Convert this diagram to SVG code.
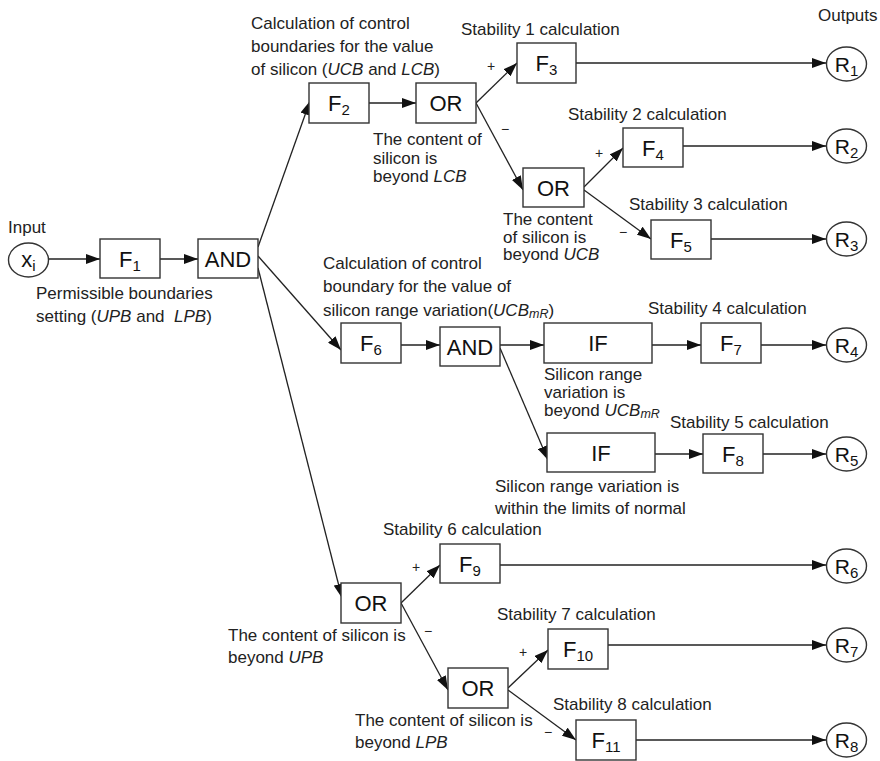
<svg xmlns="http://www.w3.org/2000/svg" width="880" height="761" viewBox="0 0 880 761">
<defs>
<marker id="ah" markerWidth="14" markerHeight="10" refX="14" refY="5" orient="auto" markerUnits="userSpaceOnUse"><path d="M0,0 L14,5 L0,10 Z" fill="#111"/></marker>
</defs>
<style>
.box{fill:#fff;stroke:#333;stroke-width:1.4}
.circ{fill:#fff;stroke:#333;stroke-width:1.4}
.lbl{font-family:"Liberation Sans",Arial,sans-serif;font-size:22px;fill:#111;text-anchor:middle}
.rl{font-family:"Liberation Sans",Arial,sans-serif;font-size:21px;fill:#111;text-anchor:middle}
.sub{font-size:15px}
.t{font-family:"Liberation Sans",Arial,sans-serif;font-size:17px;fill:#222}
.sg{font-family:"Liberation Sans",Arial,sans-serif;font-size:14px;fill:#222;text-anchor:middle}
.it{font-style:italic}
.c line{stroke:#222;stroke-width:1.3;marker-end:url(#ah)}
</style>
<rect width="880" height="761" fill="#fff"/>
<g id="connectors" class="c">
<line x1="49" y1="259" x2="100" y2="259"/>
<line x1="160" y1="259" x2="198" y2="259"/>
<line x1="258" y1="247" x2="310" y2="101"/>
<line x1="369" y1="103" x2="416" y2="103"/>
<line x1="476" y1="103" x2="517" y2="63"/>
<line x1="476" y1="103" x2="523" y2="190"/>
<line x1="584" y1="187" x2="623" y2="148"/>
<line x1="584" y1="190" x2="651" y2="239"/>
<line x1="576" y1="63" x2="826" y2="63"/>
<line x1="683" y1="146" x2="826" y2="146"/>
<line x1="711" y1="239" x2="826" y2="239"/>
<line x1="258" y1="256" x2="341" y2="350"/>
<line x1="401" y1="345" x2="440" y2="345"/>
<line x1="500" y1="345" x2="544" y2="345"/>
<line x1="652" y1="345" x2="701" y2="345"/>
<line x1="761" y1="345" x2="826" y2="345"/>
<line x1="500" y1="348" x2="548" y2="460"/>
<line x1="655" y1="454" x2="703" y2="454"/>
<line x1="763" y1="454" x2="826" y2="454"/>
<line x1="258" y1="268" x2="342" y2="598"/>
<line x1="401" y1="603" x2="440" y2="565"/>
<line x1="401" y1="603" x2="448" y2="690"/>
<line x1="500" y1="565" x2="826" y2="565"/>
<line x1="508" y1="688" x2="548" y2="650"/>
<line x1="508" y1="690" x2="576" y2="740"/>
<line x1="608" y1="645" x2="826" y2="645"/>
<line x1="636" y1="740" x2="826" y2="740"/>
</g>
<g id="n-xi"><ellipse class="circ" cx="28.5" cy="260" rx="20" ry="17"/><text class="lbl" x="28.5" y="267" font-size="24">x<tspan class="sub" dy="4">i</tspan></text></g>
<g id="n-F1"><rect class="box" x="100" y="239" width="60" height="39"/><text class="lbl" x="130" y="266.5">F<tspan class="sub" dy="4">1</tspan></text></g>
<g id="n-AND1"><rect class="box" x="198" y="239" width="60" height="39"/><text class="lbl" x="228" y="266.5">AND</text></g>
<g id="n-F2"><rect class="box" x="309" y="83" width="60" height="40"/><text class="lbl" x="339" y="111">F<tspan class="sub" dy="4">2</tspan></text></g>
<g id="n-OR1"><rect class="box" x="416" y="83" width="60" height="40"/><text class="lbl" x="446" y="111">OR</text></g>
<g id="n-F3"><rect class="box" x="517" y="43" width="59" height="40"/><text class="lbl" x="546.5" y="71">F<tspan class="sub" dy="4">3</tspan></text></g>
<g id="n-OR2"><rect class="box" x="523" y="168" width="61" height="39"/><text class="lbl" x="553.5" y="195.5">OR</text></g>
<g id="n-F4"><rect class="box" x="623" y="128" width="60" height="39"/><text class="lbl" x="653" y="155.5">F<tspan class="sub" dy="4">4</tspan></text></g>
<g id="n-F5"><rect class="box" x="651" y="220" width="60" height="39"/><text class="lbl" x="681" y="247.5">F<tspan class="sub" dy="4">5</tspan></text></g>
<g id="n-F6"><rect class="box" x="341" y="323" width="60" height="40"/><text class="lbl" x="371" y="351">F<tspan class="sub" dy="4">6</tspan></text></g>
<g id="n-AND2"><rect class="box" x="440" y="327" width="60" height="39"/><text class="lbl" x="470" y="354.5">AND</text></g>
<g id="n-IF1"><rect class="box" x="544" y="323" width="108" height="40"/><text class="lbl" x="598" y="351">IF</text></g>
<g id="n-F7"><rect class="box" x="701" y="323" width="60" height="40"/><text class="lbl" x="731" y="351">F<tspan class="sub" dy="4">7</tspan></text></g>
<g id="n-IF2"><rect class="box" x="547" y="433" width="108" height="39"/><text class="lbl" x="601" y="460.5">IF</text></g>
<g id="n-F8"><rect class="box" x="703" y="434" width="60" height="39"/><text class="lbl" x="733" y="461.5">F<tspan class="sub" dy="4">8</tspan></text></g>
<g id="n-F9"><rect class="box" x="440" y="544" width="60" height="39"/><text class="lbl" x="470" y="571.5">F<tspan class="sub" dy="4">9</tspan></text></g>
<g id="n-OR3"><rect class="box" x="341" y="583" width="60" height="40"/><text class="lbl" x="371" y="611">OR</text></g>
<g id="n-OR4"><rect class="box" x="448" y="668" width="60" height="40"/><text class="lbl" x="478" y="696">OR</text></g>
<g id="n-F10"><rect class="box" x="548" y="629" width="60" height="40"/><text class="lbl" x="578" y="657">F<tspan class="sub" dy="4">10</tspan></text></g>
<g id="n-F11"><rect class="box" x="576" y="720" width="60" height="40"/><text class="lbl" x="606" y="748">F<tspan class="sub" dy="4">11</tspan></text></g>
<g id="n-R1"><ellipse class="circ" cx="846.5" cy="64" rx="20" ry="17"/><text class="rl" x="846.5" y="71.5">R<tspan class="sub" dy="4">1</tspan></text></g>
<g id="n-R2"><ellipse class="circ" cx="846.5" cy="146" rx="20" ry="17"/><text class="rl" x="846.5" y="153.5">R<tspan class="sub" dy="4">2</tspan></text></g>
<g id="n-R3"><ellipse class="circ" cx="846.5" cy="239" rx="20" ry="17"/><text class="rl" x="846.5" y="246.5">R<tspan class="sub" dy="4">3</tspan></text></g>
<g id="n-R4"><ellipse class="circ" cx="846.5" cy="345" rx="20" ry="17"/><text class="rl" x="846.5" y="352.5">R<tspan class="sub" dy="4">4</tspan></text></g>
<g id="n-R5"><ellipse class="circ" cx="846.5" cy="454" rx="20" ry="17"/><text class="rl" x="846.5" y="461.5">R<tspan class="sub" dy="4">5</tspan></text></g>
<g id="n-R6"><ellipse class="circ" cx="846.5" cy="566" rx="20" ry="17"/><text class="rl" x="846.5" y="573.5">R<tspan class="sub" dy="4">6</tspan></text></g>
<g id="n-R7"><ellipse class="circ" cx="846.5" cy="645" rx="20" ry="17"/><text class="rl" x="846.5" y="652.5">R<tspan class="sub" dy="4">7</tspan></text></g>
<g id="n-R8"><ellipse class="circ" cx="846.5" cy="740" rx="20" ry="17"/><text class="rl" x="846.5" y="747.5">R<tspan class="sub" dy="4">8</tspan></text></g>
<g id="labels">
<text class="t" x="8" y="233">Input</text>
<text class="t" x="818" y="21">Outputs</text>
<text class="t" x="36" y="299">Permissible boundaries</text>
<text class="t" x="36" y="322" xml:space="preserve">setting (<tspan class="it">UPB</tspan> and  <tspan class="it">LPB</tspan>)</text>
<text class="t" x="251" y="29">Calculation of control</text>
<text class="t" x="251" y="52">boundaries for the value</text>
<text class="t" x="251" y="75">of silicon (<tspan class="it">UCB</tspan> and <tspan class="it">LCB</tspan>)</text>
<text class="t" x="373" y="145">The content of</text>
<text class="t" x="373" y="163.5">silicon is</text>
<text class="t" x="373" y="182">beyond <tspan class="it">LCB</tspan></text>
<text class="t" x="461" y="35">Stability 1 calculation</text>
<text class="t" x="568" y="120">Stability 2 calculation</text>
<text class="t" x="503" y="225">The content</text>
<text class="t" x="503" y="242.5">of silicon is</text>
<text class="t" x="503" y="260">beyond <tspan class="it">UCB</tspan></text>
<text class="t" x="629" y="210">Stability 3 calculation</text>
<text class="t" x="323" y="269">Calculation of control</text>
<text class="t" x="323" y="292">boundary for the value of</text>
<text class="t" x="323" y="316">silicon range variation(<tspan class="it">UCB<tspan font-size="12.5" dy="2">mR</tspan></tspan><tspan dy="-2">)</tspan></text>
<text class="t" x="648" y="314">Stability 4 calculation</text>
<text class="t" x="544" y="379.5">Silicon range</text>
<text class="t" x="544" y="397.5">variation is</text>
<text class="t" x="544" y="415.5">beyond <tspan class="it">UCB<tspan font-size="12.5" dy="2">mR</tspan></tspan></text>
<text class="t" x="670" y="428">Stability 5 calculation</text>
<text class="t" x="495" y="492">Silicon range variation is</text>
<text class="t" x="495" y="514">within the limits of normal</text>
<text class="t" x="383" y="535">Stability 6 calculation</text>
<text class="t" x="228" y="641">The content of silicon is</text>
<text class="t" x="228" y="663">beyond <tspan class="it">UPB</tspan></text>
<text class="t" x="497" y="620">Stability 7 calculation</text>
<text class="t" x="553" y="710">Stability 8 calculation</text>
<text class="t" x="355" y="726">The content of silicon is</text>
<text class="t" x="355" y="748">beyond <tspan class="it">LPB</tspan></text>
<text class="sg" x="491" y="71">+</text>
<text class="sg" x="505" y="134">−</text>
<text class="sg" x="599" y="158">+</text>
<text class="sg" x="623" y="237">−</text>
<text class="sg" x="416" y="572">+</text>
<text class="sg" x="428" y="636">−</text>
<text class="sg" x="523" y="657">+</text>
<text class="sg" x="548" y="737">−</text>
</g>
</svg>
